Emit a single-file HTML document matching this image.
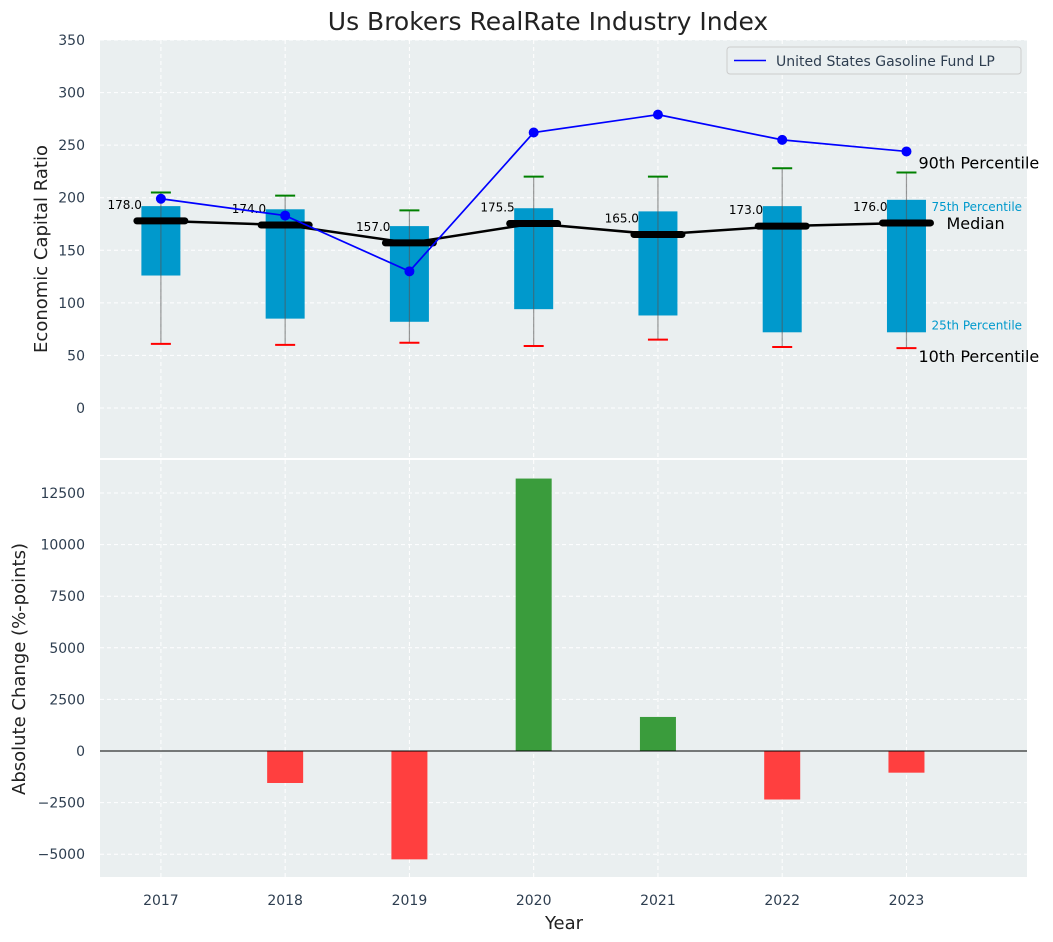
<!DOCTYPE html>
<html><head><meta charset="utf-8"><style>
html,body{margin:0;padding:0;background:#fff;}
svg{display:block;font-family:"DejaVu Sans","Liberation Sans",sans-serif;}
</style></head><body>
<svg id="chart" width="1053" height="942" viewBox="0 0 1053 942"></svg>
<script>
const years=[2017,2018,2019,2020,2021,2022,2023];
const q1=[126,85,82,94,88,72,72];
const q3=[192,189,173,190,187,192,198];
const medians=[178,174,157,175.5,165,173,176];
const p10=[61,60,62,59,65,58,57];
const p90=[205,202,188,220,220,228,224];
const fundValues=[199,183,130,262,279,255,244];
const changes=[0,-1550,-5250,13200,1650,-2350,-1050];
const topTicks=[0,50,100,150,200,250,300,350];
const botTicks=[-5000,-2500,0,2500,5000,7500,10000,12500];

const NS="http://www.w3.org/2000/svg";
const svg=document.getElementById('chart');
function mk(tag,attrs,parent,text){const e=document.createElementNS(NS,tag);for(const k in attrs)e.setAttribute(k,attrs[k]);if(text!==undefined)e.textContent=text;(parent||svg).appendChild(e);return e;}
const L=100,R=1027;
const x=v=>L+(v-2016.51)/(2023.97-2016.51)*(R-L);
const T0=40,T1=458; const yT=v=>408-v*(368/350);
const B0=460,B1=877; const yB=v=>751-v*(258/12500);

let e;
e=mk('rect',{x:L,y:T0,width:R-L,height:T1-T0,fill:'#eaeff0'});

e=mk('rect',{x:L,y:B0,width:R-L,height:B1-B0,fill:'#eaeff0'});


years.forEach(yr=>{
  mk('line',{x1:x(yr),x2:x(yr),y1:T0,y2:T1,stroke:'#fff','stroke-dasharray':'4,3','stroke-width':1});
  mk('line',{x1:x(yr),x2:x(yr),y1:B0,y2:B1,stroke:'#fff','stroke-dasharray':'4,3','stroke-width':1});
  e=mk('text',{x:x(yr),y:905,'text-anchor':'middle','font-size':14,fill:'#2e3e50'},svg,String(yr));
  
});
topTicks.forEach(t=>{
  mk('line',{x1:L,x2:R,y1:yT(t),y2:yT(t),stroke:'#fff','stroke-dasharray':'4,3','stroke-width':1});
  e=mk('text',{x:85,y:yT(t)+5,'text-anchor':'end','font-size':14,fill:'#2e3e50'},svg,String(t));
  
});
botTicks.forEach(t=>{
  mk('line',{x1:L,x2:R,y1:yB(t),y2:yB(t),stroke:'#fff','stroke-dasharray':'4,3','stroke-width':1});
  e=mk('text',{x:85,y:yB(t)+5,'text-anchor':'end','font-size':14,fill:'#2e3e50'},svg,t<0?'\u2212'+Math.abs(t):String(t));
  
});

years.forEach((yr,i)=>{
  const cx=x(yr);
  e=mk('rect',{x:cx-19.5,y:yT(q3[i]),width:39,height:yT(q1[i])-yT(q3[i]),fill:'#0099cc'});
  
  e=mk('line',{x1:cx,x2:cx,y1:yT(p10[i]),y2:yT(p90[i]),stroke:'#555','stroke-opacity':0.6,'stroke-width':1.2});
  
  e=mk('line',{x1:cx-10,x2:cx+10,y1:yT(p90[i]),y2:yT(p90[i]),stroke:'green','stroke-width':2});
  
  e=mk('line',{x1:cx-10,x2:cx+10,y1:yT(p10[i]),y2:yT(p10[i]),stroke:'red','stroke-width':2});
  
});
e=mk('polyline',{points:years.map((yr,i)=>x(yr)+','+yT(medians[i])).join(' '),fill:'none',stroke:'#000','stroke-width':2.5});

years.forEach((yr,i)=>{
  const cx=x(yr);
  e=mk('line',{x1:cx-24,x2:cx+24,y1:yT(medians[i]),y2:yT(medians[i]),stroke:'#000','stroke-width':7,'stroke-linecap':'round'});
  
  e=mk('text',{x:cx-19,y:yT(medians[i])-12,'text-anchor':'end','font-size':12,fill:'#000'},svg,medians[i].toFixed(1));
  
});
e=mk('polyline',{points:years.map((yr,i)=>x(yr)+','+yT(fundValues[i])).join(' '),fill:'none',stroke:'#0000ff','stroke-width':1.7});

years.forEach((yr,i)=>{
  e=mk('circle',{cx:x(yr),cy:yT(fundValues[i]),r:5,fill:'#0000ff'});
  
});
const lx=x(2023);
e=mk('text',{x:lx+12,y:yT(p90[6])-4,'font-size':16,fill:'#000'},svg,'90th Percentile');

e=mk('text',{x:lx+25,y:yT(q3[6])+11,'font-size':12,fill:'#0099cc'},svg,'75th Percentile');

e=mk('text',{x:lx+40,y:yT(medians[6])+6,'font-size':16,fill:'#000'},svg,'Median');

e=mk('text',{x:lx+25,y:yT(q1[6])-3,'font-size':12,fill:'#0099cc'},svg,'25th Percentile');

e=mk('text',{x:lx+12,y:yT(p10[6])+14,'font-size':16,fill:'#000'},svg,'10th Percentile');


const lg=mk('g',{});

mk('rect',{x:727,y:47,width:294,height:27,rx:3,fill:'#eaeff0',stroke:'#ccc'},lg);
mk('line',{x1:734,x2:766,y1:60.5,y2:60.5,stroke:'#0000ff','stroke-width':1.6},lg);
e=mk('text',{x:776,y:66,'font-size':14,fill:'#2e3e50'},lg,'United States Gasoline Fund LP');


years.forEach((yr,i)=>{
  const v=changes[i];
  const y1=yB(Math.max(v,0)),y2=yB(Math.min(v,0));
  e=mk('rect',{x:x(yr)-18,y:y1,width:36,height:y2-y1,fill:v>=0?'#3a9c3c':'#ff3f3f'});
  
});
e=mk('line',{x1:L,x2:R,y1:yB(0),y2:yB(0),stroke:'#000','stroke-width':1});


e=mk('text',{x:548,y:30,'text-anchor':'middle','font-size':25,fill:'#222'},svg,'Us Brokers RealRate Industry Index');

e=mk('text',{x:0,y:0,'text-anchor':'middle','font-size':18,fill:'#222',transform:'translate(47,249) rotate(-90)'},svg,'Economic Capital Ratio');

e=mk('text',{x:0,y:0,'text-anchor':'middle','font-size':18,fill:'#222',transform:'translate(25,669) rotate(-90)'},svg,'Absolute Change (%-points)');

e=mk('text',{x:564,y:929,'text-anchor':'middle','font-size':18,fill:'#222'},svg,'Year');

</script>
</body></html>
